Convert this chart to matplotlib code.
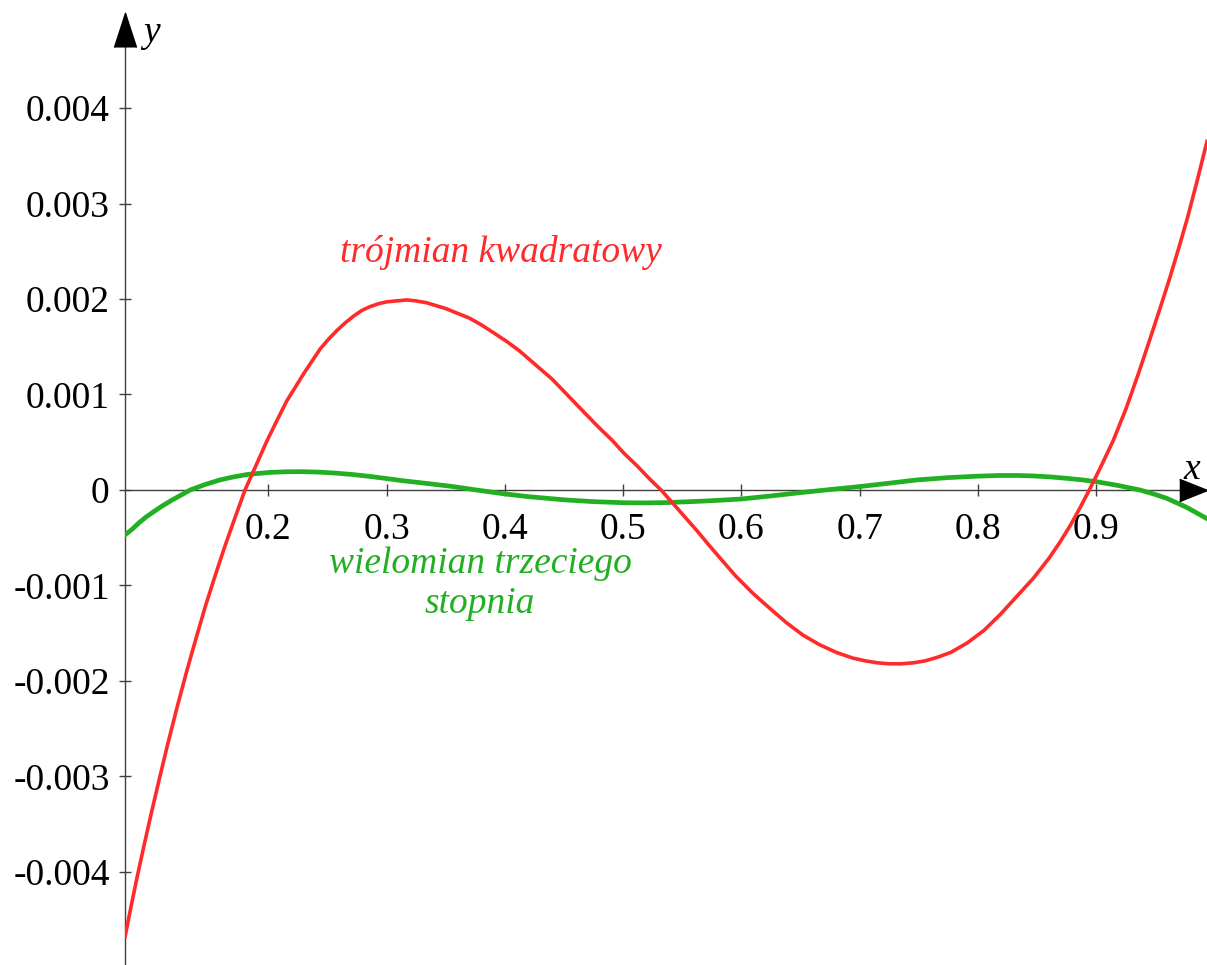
import matplotlib
matplotlib.use('Agg')
import matplotlib.pyplot as plt

plt.rcParams['font.family'] = ['Liberation Serif', 'DejaVu Serif']

# error of the quadratic approximation (red)
red_x = [0.0789, 0.084, 0.089, 0.095, 0.101, 0.108, 0.115, 0.123, 0.131, 0.139,
         0.147, 0.155, 0.163, 0.171, 0.1803, 0.189, 0.1987, 0.207, 0.2155, 0.223,
         0.230, 0.237, 0.244, 0.251, 0.258, 0.265, 0.272, 0.279, 0.286, 0.293,
         0.300, 0.308, 0.317, 0.325, 0.334, 0.342, 0.350, 0.360, 0.370, 0.380,
         0.390, 0.401, 0.412, 0.426, 0.440, 0.454, 0.468, 0.479, 0.4907, 0.501,
         0.512, 0.522, 0.532, 0.547, 0.5626, 0.572, 0.581, 0.595, 0.6095, 0.624,
         0.638, 0.652, 0.666, 0.680, 0.694, 0.705, 0.715, 0.725, 0.735, 0.745,
         0.755, 0.766, 0.777, 0.791, 0.805, 0.819, 0.833, 0.847, 0.8602, 0.869,
         0.878, 0.886, 0.894, 0.904, 0.9143, 0.925, 0.935, 0.945, 0.954, 0.962,
         0.970, 0.977, 0.985, 0.9935]
red_y = [-0.00468, -0.00436, -0.00406, -0.00372, -0.00339, -0.00302, -0.00266, -0.00227, -0.00190, -0.00155,
         -0.00121, -0.00090, -0.00060, -0.00032, 0.0, 0.00024, 0.00051, 0.00072, 0.00093, 0.00108,
         0.00122, 0.00135, 0.00148, 0.00158, 0.00167, 0.00175, 0.00182, 0.00188, 0.00192, 0.00195,
         0.00197, 0.00198, 0.00199, 0.00198, 0.00196, 0.00193, 0.00190, 0.00185, 0.00180, 0.00173,
         0.00165, 0.00156, 0.00146, 0.00131, 0.00116, 0.00098, 0.00080, 0.00066, 0.00052, 0.00038,
         0.00025, 0.00012, 0.0, -0.00021, -0.00043, -0.00057, -0.00070, -0.00090, -0.00108, -0.00124,
         -0.00139, -0.00152, -0.00162, -0.00170, -0.00176, -0.00179, -0.00181, -0.00182, -0.00182, -0.00181,
         -0.00179, -0.00175, -0.00170, -0.00160, -0.00147, -0.00130, -0.00111, -0.00092, -0.00071, -0.00055,
         -0.00037, -0.00019, 0.0, 0.00025, 0.00052, 0.00085, 0.00120, 0.00157, 0.00191, 0.00222,
         0.00255, 0.00285, 0.00323, 0.00365]

# error of the cubic approximation (green)
green_x = [0.0789, 0.085, 0.091, 0.097, 0.1028, 0.110, 0.118, 0.126, 0.134, 0.146,
           0.159, 0.171, 0.183, 0.201, 0.215, 0.229, 0.243, 0.258, 0.272, 0.286,
           0.300, 0.313, 0.333, 0.3536, 0.365, 0.376, 0.388, 0.400, 0.420, 0.4513,
           0.475, 0.500, 0.518, 0.5358, 0.5648, 0.582, 0.600, 0.625, 0.6494, 0.675,
           0.700, 0.724, 0.748, 0.775, 0.800, 0.8185, 0.833, 0.847, 0.861, 0.875,
           0.888, 0.900, 0.918, 0.9368, 0.948, 0.9594, 0.976, 0.9935]
green_y = [-0.00047, -0.00041, -0.00034, -0.00028, -0.00023, -0.00017, -0.00011, -0.000055, 0.0, 0.000055,
           0.000105, 0.000138, 0.000164, 0.000184, 0.000191, 0.000192, 0.000187, 0.000176, 0.000161, 0.000142,
           0.000120, 0.000098, 0.000070, 0.000040, 0.000020, 0.0, -0.000021, -0.000041, -0.000070, -0.000104,
           -0.000122, -0.000133, -0.000135, -0.000132, -0.000118, -0.000107, -0.000094, -0.000062, -0.000028, 0.000005,
           0.000036, 0.000070, 0.000105, 0.000130, 0.000145, 0.000152, 0.000152, 0.000147, 0.000137, 0.000122,
           0.000106, 0.000087, 0.000048, 0.0, -0.000040, -0.000087, -0.000180, -0.000300]

x_ticks = [0.2, 0.3, 0.4, 0.5, 0.6, 0.7, 0.8, 0.9]
x_labels = ['0.2', '0.3', '0.4', '0.5', '0.6', '0.7', '0.8', '0.9']
y_ticks = [-0.004, -0.003, -0.002, -0.001, 0.0, 0.001, 0.002, 0.003, 0.004]
y_labels = ['-0.004', '-0.003', '-0.002', '-0.001', '0', '0.001', '0.002', '0.003', '0.004']

red = '#ff2a2a'
green = '#22b022'
axis_col = '#404040'

fig = plt.figure(figsize=(12.07, 9.65), dpi=100)
ax = fig.add_axes([125 / 1207, 0, 1 - 125 / 1207, 1])
ax.set_xlim(0.07887, 0.99349)
ax.set_ylim(-0.004974, 0.005131)

ax.plot(green_x, green_y, color=green, lw=3.4, solid_joinstyle='round', zorder=3)
ax.plot(red_x, red_y, color=red, lw=2.6, solid_joinstyle='round', zorder=4)

# axes drawn as arrows, Maple style
for s in ['top', 'right']:
    ax.spines[s].set_visible(False)
ax.spines['bottom'].set_position(('data', 0))
y_tip = 0.004995
ax.spines['left'].set_bounds(-0.004974, y_tip)
for s in ['left', 'bottom']:
    ax.spines[s].set_color(axis_col)
    ax.spines[s].set_linewidth(1.0)

ax.plot([1], [0], marker=[(-2, -0.8), (0, 0), (-2, 0.8)], ms=40, color='black',
        transform=ax.get_yaxis_transform(), clip_on=False, zorder=5)
ax.plot([0.07887], [y_tip], marker=[(-0.65, -2), (0, 0), (0.65, -2)], ms=49, color='black',
        clip_on=False, zorder=5)
ax.text(0.9805, 0.00021, 'x', fontsize=27, style='italic', ha='center', va='center')
ax.text(0.1009, 0.00479, 'y', fontsize=27, style='italic', ha='center', va='center')

ax.set_xticks(x_ticks)
ax.set_xticklabels(x_labels)
ax.set_yticks(y_ticks)
ax.set_yticklabels(y_labels)
ax.tick_params(axis='both', direction='inout', length=8, width=1.0, color=axis_col,
               labelsize=27)
ax.tick_params(axis='x', pad=12)
ax.tick_params(axis='y', pad=7)

ax.text(0.3967, 0.00249, 'trójmian kwadratowy', color=red, fontsize=27,
        style='italic', ha='center', va='center')
ax.text(0.379, -0.00098, 'wielomian trzeciego\nstopnia', color=green, fontsize=27,
        style='italic', ha='center', va='center', linespacing=1.22)

fig.savefig('out.png', dpi=100)
